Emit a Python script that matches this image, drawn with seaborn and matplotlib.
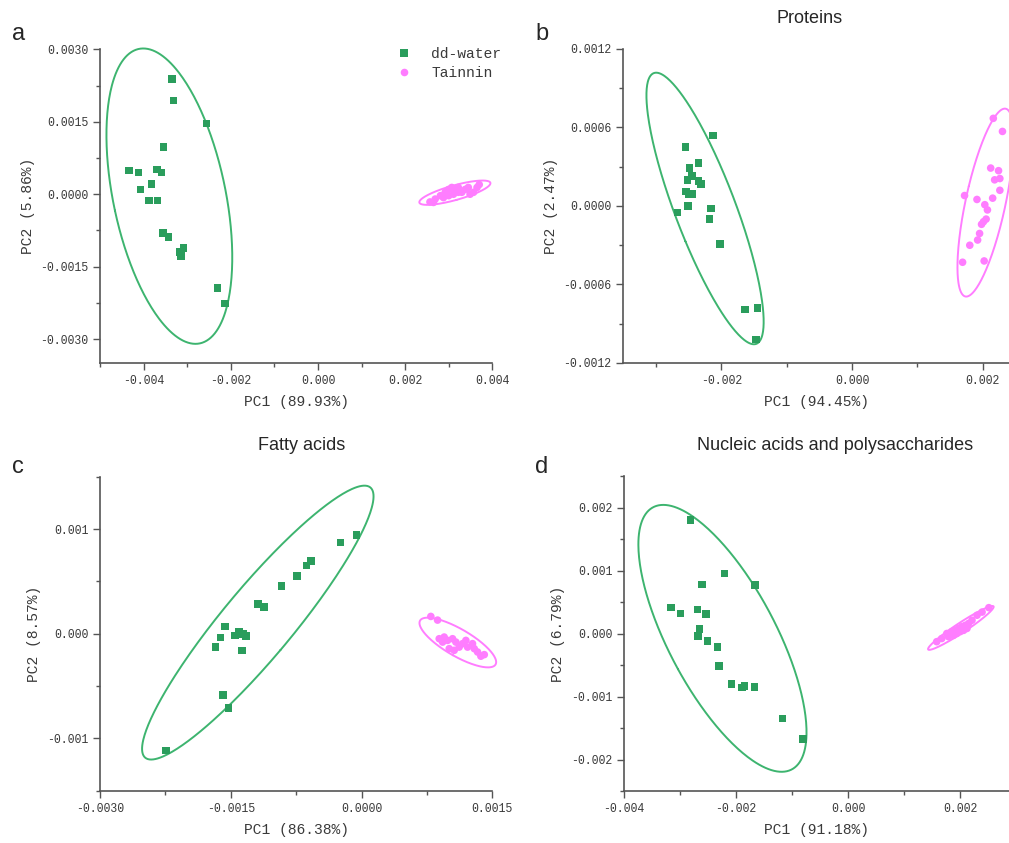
import numpy as np
import pandas as pd
import matplotlib
matplotlib.use("Agg")
import matplotlib.pyplot as plt
import seaborn as sns
from matplotlib.ticker import MultipleLocator, AutoMinorLocator, FormatStrFormatter

# groups and axis labels
groups = ["dd-water", "Tainnin"]
panel_letters = ["a", "b", "c", "d"]
panel_titles = ["", "Proteins", "Fatty acids", "Nucleic acids and polysaccharides"]
pc1_labels = ["PC1 (89.93%)", "PC1 (94.45%)", "PC1 (86.38%)", "PC1 (91.18%)"]
pc2_labels = ["PC2 (5.86%)", "PC2 (2.47%)", "PC2 (8.57%)", "PC2 (6.79%)"]

# panel a - all spectrum
a_water_x = [-0.00335, -0.00331, -0.00256, -0.00354, -0.00434, -0.00412, -0.00369, -0.00359, -0.00382, -0.00407,
             -0.00388, -0.00368, -0.00356, -0.00343, -0.00318, -0.00308, -0.00314, -0.00230, -0.00213]
a_water_y = [0.00238, 0.00194, 0.00146, 0.00098, 0.00049, 0.00045, 0.00051, 0.00045, 0.00021, 0.00010,
             -0.00013, -0.00013, -0.00080, -0.00088, -0.00120, -0.00111, -0.00128, -0.00194, -0.00226]
a_tannin_x = [0.00257, 0.00265, 0.00269, 0.00281, 0.00288, 0.00292, 0.00300, 0.00300, 0.00307, 0.00311,
              0.00315, 0.00322, 0.00322, 0.00330, 0.00338, 0.00345, 0.00349, 0.00357, 0.00365, 0.00370]
a_tannin_y = [-0.00016, -0.00017, -0.00010, -0.00003, -0.00007, 0.00004, 0.00010, -0.00003, 0.00014, 0.00000,
              0.00007, 0.00014, 0.00004, 0.00004, 0.00010, 0.00014, 0.00000, 0.00004, 0.00014, 0.00020]

# panel b - proteins
b_water_x = [-0.00213, -0.00255, -0.00235, -0.00249, -0.00245, -0.00252, -0.00235, -0.00231, -0.00254, -0.00250,
             -0.00245, -0.00251, -0.00267, -0.00216, -0.00218, -0.00202, -0.00164, -0.00145, -0.00147]
b_water_y = [0.00054, 0.00045, 0.00033, 0.00029, 0.00023, 0.00020, 0.00019, 0.00017, 0.00011, 0.00009,
             0.00009, 0.00000, -0.00005, -0.00002, -0.00010, -0.00029, -0.00079, -0.00078, -0.00102]
b_tannin_x = [0.00216, 0.00230, 0.00212, 0.00224, 0.00218, 0.00226, 0.00226, 0.00215, 0.00172, 0.00191,
              0.00203, 0.00207, 0.00205, 0.00201, 0.00198, 0.00195, 0.00192, 0.00180, 0.00169, 0.00202]
b_tannin_y = [0.00067, 0.00057, 0.00029, 0.00027, 0.00020, 0.00021, 0.00012, 0.00006, 0.00008, 0.00005,
              0.00001, -0.00003, -0.00010, -0.00012, -0.00014, -0.00021, -0.00026, -0.00030, -0.00043, -0.00042]

# panel c - fatty acids
c_water_x = [-0.000057, -0.000241, -0.000577, -0.000631, -0.000738, -0.000918, -0.001189, -0.001120, -0.001564, -0.001407,
             -0.001453, -0.001361, -0.001327, -0.001618, -0.001675, -0.001373, -0.001587, -0.001526, -0.002245]
c_water_y = [0.000941, 0.000871, 0.000696, 0.000652, 0.000553, 0.000455, 0.000286, 0.000254, 0.000070, 0.000019,
             -0.000019, 0.000000, -0.000022, -0.000038, -0.000127, -0.000162, -0.000585, -0.000712, -0.001116]
c_tannin_x = [0.000795, 0.000872, 0.000891, 0.000948, 0.000987, 0.001044, 0.001082, 0.001006, 0.001120, 0.001159,
              0.001197, 0.001216, 0.001273, 0.001293, 0.001331, 0.001369, 0.001408, 0.001063, 0.000930]
c_tannin_y = [0.000165, 0.000130, -0.000048, -0.000032, -0.000064, -0.000048, -0.000080, -0.000143, -0.000128, -0.000095,
              -0.000064, -0.000128, -0.000095, -0.000143, -0.000175, -0.000215, -0.000200, -0.000159, -0.000080]

# panel d - nucleic acids and polysaccharides
d_water_x = [-0.00281, -0.00221, -0.00166, -0.00261, -0.00316, -0.00299, -0.00269, -0.00254, -0.00265, -0.00268,
             -0.00251, -0.00233, -0.00231, -0.00208, -0.00189, -0.00185, -0.00167, -0.00117, -0.00081]
d_water_y = [0.00180, 0.00095, 0.00077, 0.00078, 0.00041, 0.00032, 0.00038, 0.00031, 0.00007, -0.00004,
             -0.00012, -0.00021, -0.00052, -0.00080, -0.00086, -0.00083, -0.00085, -0.00135, -0.00167]
d_tannin_x = [0.00158, 0.00167, 0.00176, 0.00185, 0.00191, 0.00197, 0.00203, 0.00209, 0.00215, 0.00221,
              0.00230, 0.00239, 0.00251, 0.00194, 0.00206, 0.00188, 0.00179, 0.00200, 0.00212]
d_tannin_y = [-0.00013, -0.00008, 0.00000, 0.00003, 0.00005, 0.00008, 0.00011, 0.00013, 0.00016, 0.00021,
              0.00029, 0.00034, 0.00041, 0.00000, 0.00005, -0.00003, -0.00005, 0.00003, 0.00008]

panels = [
    (a_water_x, a_water_y, a_tannin_x, a_tannin_y),
    (b_water_x, b_water_y, b_tannin_x, b_tannin_y),
    (c_water_x, c_water_y, c_tannin_x, c_tannin_y),
    (d_water_x, d_water_y, d_tannin_x, d_tannin_y),
]

# axis settings (limits, major steps, tick formats)
xlims = [(-0.005, 0.004), (-0.0035, 0.0024), (-0.003, 0.0015), (-0.004, 0.00287)]
ylims = [(-0.0035, 0.003), (-0.0012, 0.0012), (-0.0015, 0.0015), (-0.0025, 0.0025)]
xsteps = [0.002, 0.002, 0.0015, 0.002]
ysteps = [0.0015, 0.0006, 0.001, 0.001]
xfmts = ["%.3f", "%.3f", "%.4f", "%.3f"]
yfmts = ["%.4f", "%.4f", "%.3f", "%.3f"]

green = "#2A9D5C"
green_line = "#3DB46F"
pink = "#FF7DFF"
text_col = "#3a3a3a"

sns.set_style("ticks")
plt.rcParams["font.family"] = ["Liberation Mono", "DejaVu Sans"]
plt.rcParams["axes.edgecolor"] = "#555555"
plt.rcParams["xtick.color"] = "#555555"
plt.rcParams["ytick.color"] = "#555555"


def conf_ellipse(x, y, n=300):
    # 95% confidence ellipse from the sample covariance
    x = np.asarray(x)
    y = np.asarray(y)
    cov = np.cov(x, y)
    vals, vecs = np.linalg.eigh(cov)
    k = -2 * np.log(0.05)
    t = np.linspace(0, 2 * np.pi, n)
    circ = np.vstack([np.cos(t), np.sin(t)])
    pts = vecs @ np.diag(np.sqrt(vals * k)) @ circ
    return pts[0] + x.mean(), pts[1] + y.mean()


fig = plt.figure(figsize=(10.09, 8.43), dpi=100)
W, H = 1009, 843
boxes = [(100, 363.3, 392.3, 314), (623.3, 363, 385.7, 314),
         (100, 790.7, 392.3, 314), (624, 791, 385, 315)]

for i, (wx, wy, tx, ty) in enumerate(panels):
    l, b, w, h = boxes[i]
    ax = fig.add_axes([l / W, (H - b) / H, w / W, h / H])
    df = pd.DataFrame({
        "PC1": wx + tx,
        "PC2": wy + ty,
        "group": [groups[0]] * len(wx) + [groups[1]] * len(tx),
    })
    for g, col in zip(groups, [green_line, pink]):
        sub = df[df["group"] == g]
        ex, ey = conf_ellipse(sub["PC1"], sub["PC2"])
        ax.plot(ex, ey, color=col, lw=1.4, zorder=1, clip_on=False)
    sns.scatterplot(data=df, x="PC1", y="PC2", hue="group", style="group",
                    palette={groups[0]: green, groups[1]: pink},
                    markers={groups[0]: "s", groups[1]: "o"},
                    s=30, linewidth=0, ax=ax, legend=(i == 0), zorder=2)
    ax.set_xlim(xlims[i])
    ax.set_ylim(ylims[i])
    ax.xaxis.set_major_locator(MultipleLocator(xsteps[i]))
    ax.yaxis.set_major_locator(MultipleLocator(ysteps[i]))
    ax.xaxis.set_minor_locator(AutoMinorLocator(2))
    ax.yaxis.set_minor_locator(AutoMinorLocator(2))
    ax.xaxis.set_major_formatter(FormatStrFormatter(xfmts[i]))
    ax.yaxis.set_major_formatter(FormatStrFormatter(yfmts[i]))
    ax.tick_params(which="major", length=5, width=1, labelsize=8.3, labelcolor=text_col, direction="out")
    ax.tick_params(which="minor", length=3, width=1, direction="out")
    for sp in ["top", "right"]:
        ax.spines[sp].set_visible(False)
    for sp in ["left", "bottom"]:
        ax.spines[sp].set_linewidth(1.2)
    ax.set_xlabel(pc1_labels[i], fontsize=10.5, color=text_col, labelpad=6)
    ax.set_ylabel(pc2_labels[i], fontsize=10.5, color=text_col, labelpad=4)
    if i == 0:
        handles, labels = ax.get_legend_handles_labels()
        ax.legend(handles, labels, loc="upper left", bbox_to_anchor=(0.705, 1.05),
                  frameon=False, fontsize=10.5, handletextpad=0.85, labelspacing=0.35,
                  labelcolor=text_col)

# panel letters and titles
letter_pos = [(12, 40), (535, 40), (12, 473), (535, 473)]
title_pos = [(0, 0), (810, 23), (302, 450), (835, 450)]
for i in range(4):
    fig.text(letter_pos[i][0] / W, 1 - letter_pos[i][1] / H, panel_letters[i],
             fontsize=17, family=["Liberation Sans", "DejaVu Sans"], va="baseline", ha="left")
    if panel_titles[i]:
        fig.text(title_pos[i][0] / W, 1 - title_pos[i][1] / H, panel_titles[i],
                 fontsize=13, family=["Liberation Sans", "DejaVu Sans"], va="baseline", ha="center")

fig.savefig("out.png", dpi=100)
